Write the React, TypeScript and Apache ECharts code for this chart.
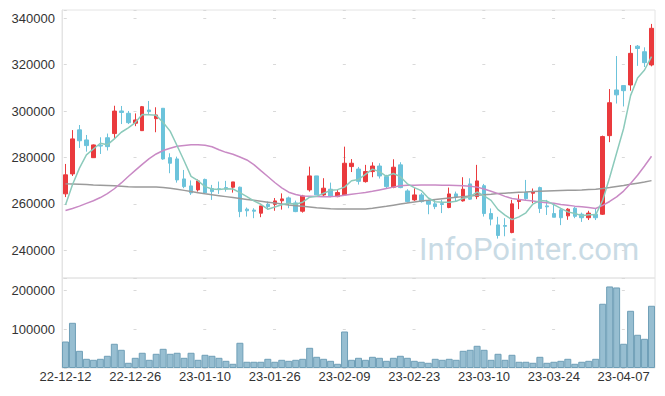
import React, { useEffect, useRef } from "react";
import * as echarts from "echarts";

const dates = [
  "22-12-12","22-12-13","22-12-14","22-12-15","22-12-16","22-12-19","22-12-20","22-12-21","22-12-22","22-12-23",
  "22-12-26","22-12-27","22-12-28","22-12-29","23-01-02","23-01-03","23-01-04","23-01-05","23-01-06","23-01-09",
  "23-01-10","23-01-11","23-01-12","23-01-13","23-01-16","23-01-17","23-01-18","23-01-19","23-01-20","23-01-25",
  "23-01-26","23-01-27","23-01-30","23-01-31","23-02-01","23-02-02","23-02-03","23-02-06","23-02-07","23-02-08",
  "23-02-09","23-02-10","23-02-13","23-02-14","23-02-15","23-02-16","23-02-17","23-02-20","23-02-21","23-02-22",
  "23-02-23","23-02-24","23-02-27","23-02-28","23-03-02","23-03-03","23-03-06","23-03-07","23-03-08","23-03-09",
  "23-03-10","23-03-13","23-03-14","23-03-15","23-03-16","23-03-17","23-03-20","23-03-21","23-03-22","23-03-23",
  "23-03-24","23-03-27","23-03-28","23-03-29","23-03-30","23-03-31","23-04-03","23-04-04","23-04-05","23-04-06",
  "23-04-07","23-04-10","23-04-11","23-04-12","23-04-13"
];

const opens = [
  264300,272900,291900,287550,279900,285300,288500,290300,300050,299050,
  294750,291560,300470,296730,301210,279920,279360,270740,267720,266000,
  270520,266600,266500,267000,267160,267160,257700,257300,255950,259830,
  259800,261300,262550,260400,256800,266000,272030,263840,266300,263100,
  263840,276060,275000,269570,273900,276300,271760,267160,276800,265560,
  261690,263840,261260,259980,260100,258400,264270,261260,268580,263120,
  267800,255800,250900,250650,247600,261000,265000,264560,267000,259100,
  255800,257400,254800,258100,255500,254000,255500,255500,289400,309100,
  311000,311250,328000,325600,319900
];
const closes = [
  272500,288000,287200,285100,285400,284900,284660,300000,299400,295000,
  296170,301900,299750,298320,279350,277500,270300,267420,264700,269880,
  264700,265260,266200,266400,269450,256650,257000,256800,259100,258800,
  261260,262120,260130,256650,263400,272030,263840,266730,263100,264840,
  277500,277500,269700,273900,276300,272000,267420,275790,267000,260960,
  263840,260960,259830,258800,259700,264270,262980,266300,262000,269880,
  255800,253400,246350,250300,259980,261700,262200,265270,258000,258700,
  254200,254000,257700,254600,254000,256000,254000,289000,303600,307000,
  308800,324900,327000,320900,335700
];
const lows = [
  262900,272000,284100,282500,279800,281500,283000,288000,294400,294400,
  293500,291400,298750,290870,279000,273200,269140,266730,263840,265270,
  264270,261690,264270,265250,264830,254230,254500,253800,254230,257400,
  257000,257500,258100,256400,256200,265270,263840,263410,262850,262850,
  263400,273700,268300,269140,271470,270900,266700,266730,266730,260500,
  261260,260500,255500,257700,256000,258100,261000,260960,261690,262000,
  254500,250700,245000,246000,247300,257700,261700,260250,256000,255200,
  254200,250800,253100,253800,252200,253000,253000,255200,286600,303250,
  302000,308800,319500,319000,319300
];
const highs = [
  277200,291800,294000,289700,285600,288700,290300,302300,302200,300050,
  299000,302200,304360,301640,301300,281800,280350,274600,270090,270520,
  270870,268150,269600,269900,269450,267420,258400,258100,259100,261000,
  262500,264500,263120,261400,263850,276040,272030,271040,269140,266000,
  284660,279300,275900,276800,277930,277500,272500,279220,277930,266300,
  266730,264700,261690,262000,261700,267000,265270,271470,271000,276800,
  268580,258000,254400,253800,261700,264000,270300,266600,267420,261700,
  259500,258000,258100,258800,256200,257000,258000,289400,309500,323750,
  311000,328500,328500,327500,337600
];
const volumes = [
  68600,117000,44500,23800,21200,23800,31600,62700,47100,13500,
  26400,39400,21200,36800,49700,36800,39400,26400,39400,21200,
  34200,31600,26400,18600,10900,65300,16100,16100,16100,23800,
  16100,21200,18600,21200,23800,52300,29000,23800,18600,10900,
  94500,21200,26400,21200,29000,26400,18600,26400,31600,26400,
  18600,16100,13500,23800,21200,23800,21200,44500,47100,57500,
  47100,21200,36800,21200,34200,16100,16100,13500,29000,13500,
  16100,18600,23800,10900,16100,18600,23800,166300,211100,208500,
  62700,148100,86000,75600,161100
];
const ma5 = [
  259500,268200,275400,281100,283640,286120,285450,288010,290870,292790,
  295050,298490,298440,298230,295100,291360,285040,278580,271850,269960,
  267400,266390,266150,266490,266400,264790,263140,261260,259800,257670,
  258590,259620,260280,259790,260710,262870,263210,264530,265820,266110,
  267200,269930,270530,272690,274980,273880,271860,273080,271700,268630,
  267000,265710,262520,260880,260630,260710,261120,262410,263050,265090,
  263390,261480,257490,255150,253170,254350,256110,259890,261430,261170,
  259670,258030,256520,255840,254900,255260,255260,261520,271320,281920,
  292480,306660,314260,317720,323460
];
const ma20 = [
  257100,258000,259000,260200,261300,262700,264400,266500,269000,271800,
  274400,277000,279500,281500,283000,284000,284800,285200,285500,285500,
  285300,284600,283300,282200,281400,280200,278900,276900,274300,271800,
  269200,266900,265000,264000,263400,263300,263200,263100,263100,263300,
  263700,264100,264500,264900,265400,266000,266600,267200,267800,268000,
  268000,268100,268100,268100,268000,268000,267900,267800,267600,267200,
  266400,265400,264400,263200,262300,261900,261500,261200,260800,260500,
  260200,259700,259400,259000,258700,258400,258000,259300,261000,263000,
  265500,268800,272300,276300,280500
];
const ma60 = [
  268600,268500,268400,268300,268100,268000,267900,267800,267600,267400,
  267300,267300,267300,267200,267000,266700,266300,265800,265300,264800,
  264300,263900,263500,263100,262700,262300,261900,261500,261100,260700,
  260300,259900,259500,259200,258900,258600,258300,258100,257900,257800,
  257800,257800,257800,257800,258100,258500,258900,259400,259900,260400,
  260800,261200,261500,261900,262200,262500,262800,263100,263400,263700,
  263900,264100,264400,264600,264800,265000,265100,265300,265400,265500,
  265600,265700,265800,265900,266000,266200,266300,266600,267000,267500,
  267900,268400,268900,269400,270000
];

const FONT = "'Liberation Sans', Arial, sans-serif";
const RED = "#ea3a3d";
const BLUE = "#6cc3db";
const GRID_LINE = "#d9d9d9";

export default function App() {
  const ref = useRef<HTMLDivElement>(null);

  useEffect(() => {
    if (!ref.current) return;
    const chart = echarts.init(ref.current, null, { renderer: "svg" });
    const candles = dates.map((_, i) => [opens[i], closes[i], lows[i], highs[i]]);

    const plain = (v: number) => String(v);

    chart.setOption({
      animation: false,
      backgroundColor: "#ffffff",
      textStyle: { fontFamily: FONT },
      grid: [
        { left: 62, right: 10, top: 10, height: 268, show: true, borderColor: "#e4e4e4", borderWidth: 1 },
        { left: 62, right: 10, top: 278, height: 90, show: true, borderColor: "#e4e4e4", borderWidth: 1 },
      ],
      xAxis: [
        {
          type: "category",
          gridIndex: 0,
          data: dates,
          boundaryGap: true,
          axisLine: { show: false },
          axisTick: { show: false },
          axisLabel: { show: false, interval: 9 },
          splitLine: { show: false },
        },
        {
          type: "category",
          gridIndex: 1,
          data: dates,
          boundaryGap: true,
          axisLine: { show: false },
          axisTick: { show: false },
          axisLabel: { interval: 9, color: "#333", fontSize: 13, fontFamily: FONT, margin: 2 },
          splitLine: { show: false },
        },
      ],
      yAxis: [
        {
          type: "value",
          gridIndex: 0,
          min: 228000,
          max: 343600,
          axisLine: { show: true, lineStyle: { color: "#e4e4e4" } },
          axisTick: { show: false },
          axisLabel: { color: "#333", fontSize: 13, fontFamily: FONT, margin: 7, showMinLabel: false, showMaxLabel: false, formatter: plain },
          splitLine: { show: true, lineStyle: { color: GRID_LINE, width: 1, type: [3, 66.76], dashOffset: 67.76 } },
        },
        {
          type: "value",
          gridIndex: 1,
          min: 0,
          max: 233000,
          interval: 100000,
          axisLine: { show: true, lineStyle: { color: "#e4e4e4" } },
          axisTick: { show: false },
          axisLabel: { color: "#333", fontSize: 13, fontFamily: FONT, margin: 7, showMinLabel: false, showMaxLabel: false, formatter: plain },
          splitLine: { show: true, lineStyle: { color: GRID_LINE, width: 1, type: [3, 66.76], dashOffset: 67.76 } },
        },
      ],
      graphic: {
        elements: [
          {
            type: "text",
            left: 419,
            top: 234,
            z: 0,
            silent: true,
            style: {
              text: "InfoPointer.com",
              fill: "#c9dbe5",
              font: "31px Roboto, 'Liberation Sans', sans-serif",
            },
          },
        ],
      },
      series: [
        {
          type: "candlestick",
          xAxisIndex: 0,
          yAxisIndex: 0,
          data: candles,
          barWidth: 4,
          z: 3,
          itemStyle: {
            color: RED,
            color0: BLUE,
            borderColor: RED,
            borderColor0: BLUE,
            borderWidth: 1,
          },
        },
        {
          type: "line",
          name: "MA60",
          xAxisIndex: 0,
          yAxisIndex: 0,
          data: ma60,
          showSymbol: false,
          z: 4,
          lineStyle: { color: "#9b9b9b", width: 1.5 },
        },
        {
          type: "line",
          name: "MA20",
          xAxisIndex: 0,
          yAxisIndex: 0,
          data: ma20,
          showSymbol: false,
          z: 4,
          lineStyle: { color: "#c98ac5", width: 1.5 },
        },
        {
          type: "line",
          name: "MA5",
          xAxisIndex: 0,
          yAxisIndex: 0,
          data: ma5,
          showSymbol: false,
          z: 4,
          lineStyle: { color: "#8ccabb", width: 1.5 },
        },
        {
          type: "bar",
          xAxisIndex: 1,
          yAxisIndex: 1,
          data: volumes,
          barCategoryGap: "0%",
          itemStyle: {
            color: "rgba(122,172,196,0.78)",
            borderColor: "#6f9fb7",
            borderWidth: 1,
          },
        },
      ],
    });

    return () => chart.dispose();
  }, []);

  return (
    <div
      ref={ref}
      style={{ position: "fixed", left: 0, top: 0, width: 665, height: 396, background: "#fff" }}
    />
  );
}
